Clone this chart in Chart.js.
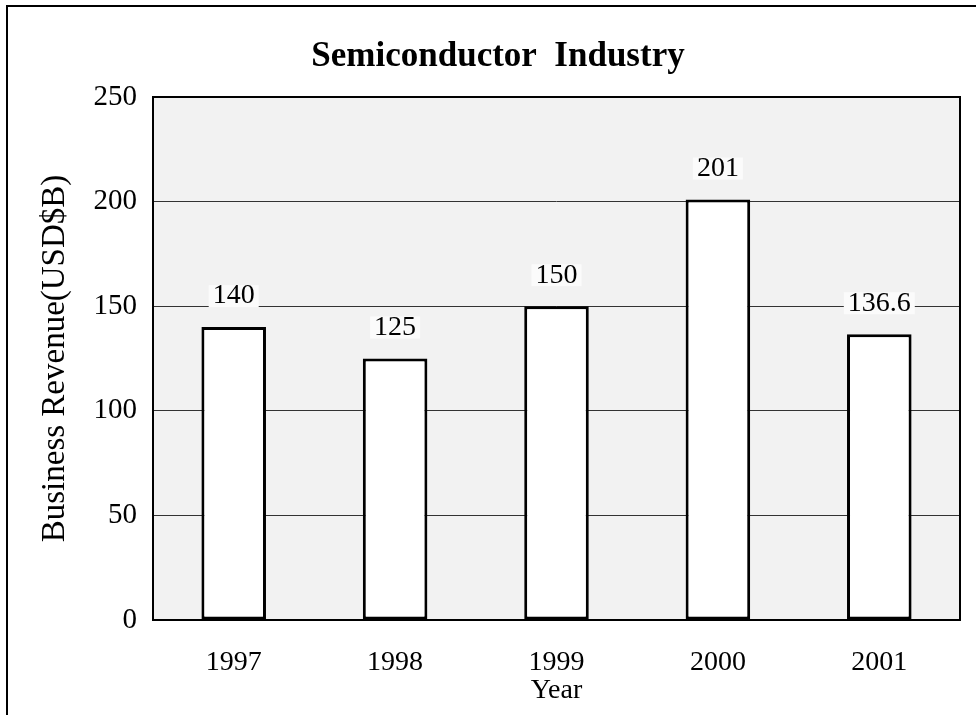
<!DOCTYPE html>
<html>
<head>
<meta charset="utf-8">
<script src="https://cdn.jsdelivr.net/npm/chart.js@4/dist/chart.umd.min.js"></script>
<style>
  body { margin: 0; background: #fff; }
  canvas { display: block; }
</style>
</head>
<body>
<canvas id="chart" width="976" height="715"></canvas>
<script>
let years = ['1997', '1998', '1999', '2000', '2001']
let revenue = [140, 125, 150, 201, 136.6]
let revenueLabels = ['140', '125', '150', '201', '136.6']
let yTicks = [0, 50, 100, 150, 200, 250]

const serif = "'Liberation Serif', 'Times New Roman', serif"

// page frame + grey plot background
const backdrop = {
  id: 'backdrop',
  beforeDraw(chart) {
    const ctx = chart.ctx
    const a = chart.chartArea
    ctx.save()
    ctx.fillStyle = '#f2f2f2'
    ctx.fillRect(a.left, a.top, a.right - a.left, a.bottom - a.top)
    ctx.strokeStyle = '#000'
    ctx.lineWidth = 2
    ctx.beginPath()
    ctx.moveTo(7, 715)
    ctx.lineTo(7, 6)
    ctx.lineTo(976, 6)
    ctx.stroke()
    ctx.restore()
  },
  afterDatasetsDraw(chart) {
    const ctx = chart.ctx
    const a = chart.chartArea
    ctx.save()
    ctx.strokeStyle = '#000'
    ctx.lineWidth = 2
    ctx.strokeRect(a.left, a.top, a.right - a.left, a.bottom - a.top)

    // value labels above the bars
    ctx.font = '28px ' + serif
    ctx.textAlign = 'center'
    ctx.textBaseline = 'middle'
    chart.getDatasetMeta(0).data.forEach((bar, i) => {
      let txt = revenueLabels[i]
      let w = ctx.measureText(txt).width
      let y = bar.y - 31
      ctx.fillStyle = '#fbfbfb'
      ctx.fillRect(bar.x - w / 2 - 4, y - 11, w + 8, 22)
      ctx.fillStyle = '#000'
      ctx.fillText(txt, bar.x, y)
    })
    ctx.restore()
  }
}

new Chart(document.getElementById('chart'), {
  type: 'bar',
  data: {
    labels: years,
    datasets: [
      {
        label: 'Business Revenue',
        data: revenue,
        backgroundColor: '#ffffff',
        borderColor: '#000000',
        borderWidth: 3,
        borderSkipped: false,
        barPercentage: 0.4,
        categoryPercentage: 1.0
      }
    ]
  },
  options: {
    responsive: false,
    animation: false,
    layout: {
      padding: { left: 36, right: 16, top: 0, bottom: 0 }
    },
    plugins: {
      legend: { display: false },
      tooltip: { enabled: false },
      title: {
        display: true,
        text: 'Semiconductor  Industry',
        color: '#000',
        font: { family: serif, size: 35, weight: 'bold' },
        padding: { top: 36, bottom: 19 }
      }
    },
    scales: {
      x: {
        grid: { display: false, drawTicks: false },
        border: { display: false },
        ticks: {
          color: '#000',
          font: { family: serif, size: 28 },
          padding: 26
        },
        title: {
          display: true,
          text: 'Year',
          color: '#000',
          font: { family: serif, size: 28 },
          padding: { top: 0, bottom: 8 }
        },
        afterFit(scale) { scale.height = 95 }
      },
      y: {
        min: 0,
        max: 250,
        grid: {
          color: (c) => (c.tick && (c.tick.value === 0 || c.tick.value === 250)) ? 'rgba(0,0,0,0)' : '#333',
          lineWidth: 1,
          drawTicks: false
        },
        border: { display: false },
        afterBuildTicks(scale) {
          scale.ticks = yTicks.map(v => ({ value: v }))
        },
        ticks: {
          color: '#000',
          font: { family: serif, size: 29 },
          padding: 16
        },
        title: {
          display: true,
          text: 'Business Revenue(USD$B)',
          color: '#000',
          font: { family: serif, size: 33 },
          padding: { top: 0, bottom: 0 }
        },
        afterFit(scale) { scale.width = 117 }
      }
    }
  },
  plugins: [backdrop]
})
</script>
</body>
</html>
